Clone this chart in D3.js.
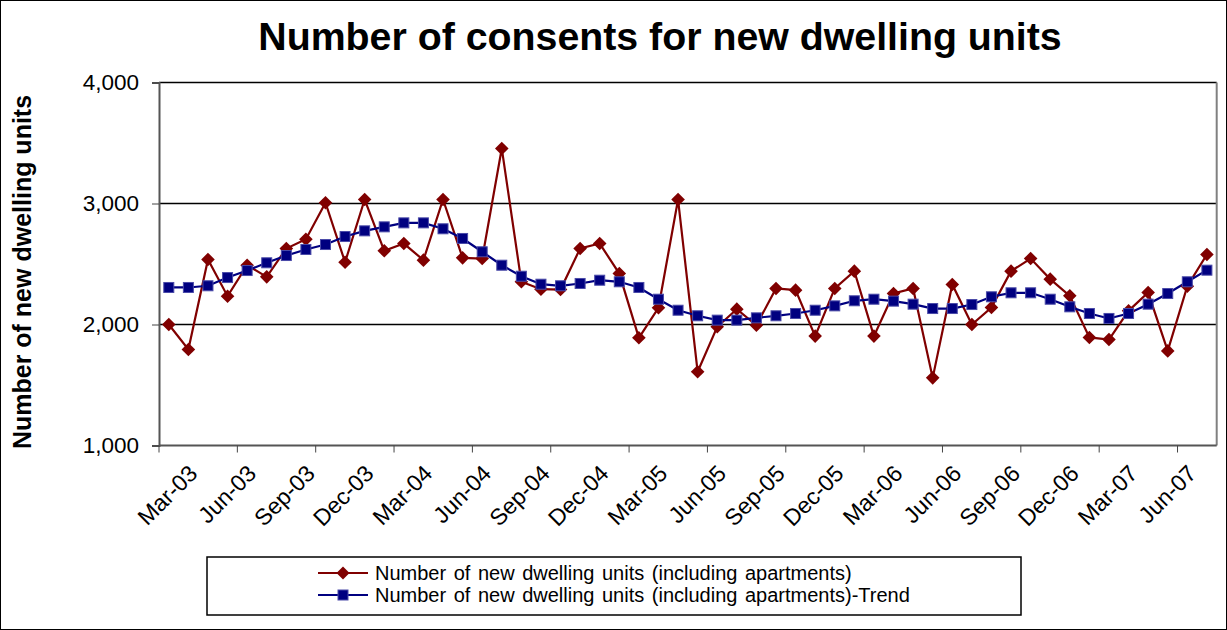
<!DOCTYPE html>
<html>
<head>
<meta charset="utf-8">
<script src="https://cdn.jsdelivr.net/npm/d3@7"></script>
<style>
  body { margin: 0; background: #fff; }
  svg { display: block; font-family: "Liberation Sans", Arial, sans-serif; }
</style>
</head>
<body>
<svg width="1227" height="630"></svg>
<script>
const months = ["Mar-03","Apr-03","May-03","Jun-03","Jul-03","Aug-03","Sep-03","Oct-03","Nov-03","Dec-03",
  "Jan-04","Feb-04","Mar-04","Apr-04","May-04","Jun-04","Jul-04","Aug-04","Sep-04","Oct-04","Nov-04","Dec-04",
  "Jan-05","Feb-05","Mar-05","Apr-05","May-05","Jun-05","Jul-05","Aug-05","Sep-05","Oct-05","Nov-05","Dec-05",
  "Jan-06","Feb-06","Mar-06","Apr-06","May-06","Jun-06","Jul-06","Aug-06","Sep-06","Oct-06","Nov-06","Dec-06",
  "Jan-07","Feb-07","Mar-07","Apr-07","May-07","Jun-07","Jul-07","Aug-07"];

const units = [2000,1793,2537,2234,2490,2394,2628,2705,3006,2515,3033,2609,2669,2532,
  3033,2551,2545,3455,2353,2292,2289,2628,2669,2421,1890,2138,3033,
  1609,1981,2127,1994,2298,2284,1904,2298,2441,1904,2256,2298,1559,2331,
  2000,2140,2441,2545,2375,2237,1893,1876,2113,2264,1782,2317,2579];

const trend = [2306,2306,2320,2388,2446,2510,2570,2620,2661,2727,2774,2807,2840,2840,
  2791,2711,2601,2490,2399,2333,2320,2339,2366,2353,2306,2209,2118,
  2072,2036,2036,2055,2072,2091,2118,2154,2196,2209,2193,2168,2132,2132,
  2165,2229,2262,2262,2209,2146,2091,2050,2091,2168,2256,2353,2449];

const yTicks = [1000, 2000, 3000, 4000];
const seriesNames = ["Number of new dwelling units (including apartments)",
  "Number of new dwelling units (including apartments)-Trend"];

const svg = d3.select("svg"),
    width = +svg.attr("width"),
    height = +svg.attr("height");

const plotLeft = 159, plotRight = 1216.7, plotTop = 82.5, plotBottom = 445.5;

const x = d3.scaleBand().domain(months).range([plotLeft, plotRight]);
const y = d3.scaleLinear().domain([1000, 4000]).range([plotBottom, plotTop]);
const cx = function(d) { return x(d) + x.bandwidth() / 2; };

// chart frame
svg.append("rect")
    .attr("x", 0.5).attr("y", 0.5)
    .attr("width", width - 1).attr("height", height - 1)
    .attr("fill", "#fff").attr("stroke", "#000");

svg.append("text")
    .attr("x", 660).attr("y", 50)
    .attr("text-anchor", "middle")
    .attr("font-size", 39.3).attr("font-weight", "bold")
    .text("Number of consents for new dwelling units");

// grid
svg.append("g").selectAll("line")
    .data(yTicks.slice(1))
    .enter().append("line")
      .attr("x1", plotLeft).attr("x2", plotRight)
      .attr("y1", function(d) { return y(d); })
      .attr("y2", function(d) { return y(d); })
      .attr("stroke", "#000").attr("stroke-width", 1.3);

svg.append("line")
    .attr("x1", plotRight).attr("x2", plotRight).attr("y1", plotTop).attr("y2", plotBottom)
    .attr("stroke", "#808080").attr("stroke-width", 2);

// y axis
const yAxis = svg.append("g")
    .attr("transform", "translate(" + plotLeft + ",0)")
    .call(d3.axisLeft(y).tickValues(yTicks).tickSize(7).tickPadding(13).tickFormat(d3.format(",")));
yAxis.select(".domain").attr("stroke", "#555").attr("stroke-width", 2);
yAxis.selectAll(".tick line").attr("stroke", "#444");
yAxis.selectAll("text").attr("font-size", 22.5).attr("fill", "#000")
    .style("font-family", "'Liberation Sans', Arial, sans-serif");

svg.append("text")
    .attr("transform", "translate(31,272) rotate(-90)")
    .attr("text-anchor", "middle")
    .attr("font-size", 25).attr("font-weight", "bold")
    .text("Number of new dwelling units");

// x axis: ticks every 4 categories, labels every 3
const xg = svg.append("g");
xg.append("line")
    .attr("x1", plotLeft).attr("x2", plotRight).attr("y1", plotBottom).attr("y2", plotBottom)
    .attr("stroke", "#555").attr("stroke-width", 2);
xg.selectAll(".tk")
    .data(months.filter(function(d, i) { return i % 4 === 0; }))
    .enter().append("line")
      .attr("class", "tk")
      .attr("x1", function(d) { return x(d); })
      .attr("x2", function(d) { return x(d); })
      .attr("y1", plotBottom).attr("y2", plotBottom + 7)
      .attr("stroke", "#444");
xg.selectAll(".lbl")
    .data(months.filter(function(d, i) { return i % 3 === 0; }))
    .enter().append("text")
      .attr("class", "lbl")
      .attr("text-anchor", "end")
      .attr("font-size", 23)
      .attr("transform", function(d) { return "translate(" + (cx(d) + 30) + ",475) rotate(-45)"; })
      .text(function(d) { return d; });

// series
const line = d3.line()
    .x(function(d, i) { return cx(months[i]); })
    .y(function(d) { return y(d); });

svg.append("path").datum(units)
    .attr("fill", "none").attr("stroke", "#800000").attr("stroke-width", 2.2)
    .attr("d", line);

svg.append("path").datum(trend)
    .attr("fill", "none").attr("stroke", "#000080").attr("stroke-width", 2.2)
    .attr("d", line);

svg.append("g").selectAll("path")
    .data(units)
    .enter().append("path")
      .attr("d", "M0,-6.8L6.8,0L0,6.8L-6.8,0Z")
      .attr("transform", function(d, i) { return "translate(" + cx(months[i]) + "," + y(d) + ")"; })
      .attr("fill", "#800000");

svg.append("g").selectAll("rect")
    .data(trend)
    .enter().append("rect")
      .attr("x", function(d, i) { return cx(months[i]) - 5; })
      .attr("y", function(d) { return y(d) - 5; })
      .attr("width", 10).attr("height", 10)
      .attr("fill", "#000080").attr("stroke", "#4a4aa8").attr("stroke-width", 1);

// legend
const legend = svg.append("g");
legend.append("rect")
    .attr("x", 207).attr("y", 557).attr("width", 814).attr("height", 58)
    .attr("fill", "#fff").attr("stroke", "#000").attr("stroke-width", 1.5);

const items = legend.selectAll(".item")
    .data(seriesNames)
    .enter().append("g")
      .attr("transform", function(d, i) { return "translate(0," + (573 + i * 22) + ")"; });

items.append("line")
    .attr("x1", 318).attr("x2", 368)
    .attr("stroke", function(d, i) { return i === 0 ? "#800000" : "#000080"; })
    .attr("stroke-width", 2);
items.filter(function(d, i) { return i === 0; }).append("path")
    .attr("d", "M343,-6.5L349.5,0L343,6.5L336.5,0Z").attr("fill", "#800000");
items.filter(function(d, i) { return i === 1; }).append("rect")
    .attr("x", 338).attr("y", -5).attr("width", 10).attr("height", 10)
    .attr("fill", "#000080").attr("stroke", "#4a4aa8");
items.append("text")
    .attr("x", 375).attr("y", 7)
    .attr("font-size", 20)
    .attr("word-spacing", 2)
    .text(function(d) { return d; });
</script>
</body>
</html>
